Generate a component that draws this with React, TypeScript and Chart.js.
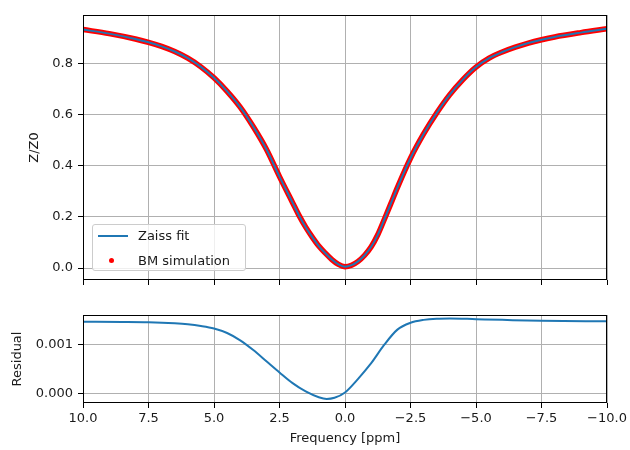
import React, { useEffect, useRef } from 'react';
import { Chart, registerables } from 'chart.js';

Chart.register(...registerables);

// ---- data ----
const freqPpm = [
  10, 9, 8, 7.5, 7, 6.5, 6, 5.5, 5, 4.5, 4, 3.5, 3, 2.5, 2, 1.75, 1.5, 1.25, 1, 0.75, 0.5, 0.25, 0,
  -0.25, -0.5, -0.75, -1, -1.25, -1.5, -1.75, -2, -2.5, -3, -3.5, -4, -4.5, -5, -5.5, -6, -6.5, -7, -7.5, -8, -9, -10,
];
const bmSimulation = [
  0.934, 0.918, 0.897, 0.884, 0.868, 0.848, 0.822, 0.788, 0.745, 0.692, 0.63, 0.553, 0.465, 0.358, 0.256, 0.205, 0.16, 0.121, 0.086, 0.058, 0.033, 0.014, 0.005,
  0.011, 0.026, 0.05, 0.083, 0.13, 0.19, 0.252, 0.315, 0.43, 0.525, 0.607, 0.679, 0.738, 0.787, 0.822, 0.846, 0.865, 0.881, 0.894, 0.905, 0.922, 0.937,
];
const zaissFit = [
  0.934, 0.918, 0.897, 0.884, 0.868, 0.848, 0.822, 0.788, 0.745, 0.692, 0.63, 0.553, 0.465, 0.358, 0.256, 0.205, 0.16, 0.121, 0.086, 0.058, 0.033, 0.014, 0.005,
  0.011, 0.026, 0.05, 0.083, 0.13, 0.19, 0.252, 0.315, 0.43, 0.525, 0.607, 0.679, 0.738, 0.787, 0.822, 0.846, 0.865, 0.881, 0.894, 0.905, 0.922, 0.937,
];
const residualFreq = [
  10, 8.5, 7.5, 6.5, 6, 5.5, 5, 4.5, 4, 3.5, 3, 2.5, 2, 1.5, 1, 0.7, 0.4, 0, -0.5, -1, -1.5, -2, -2.5, -3, -3.5, -4, -5, -6, -7.5, -10,
];
const residual = [
  0.00147, 0.001468, 0.001462, 0.00144, 0.00142, 0.001385, 0.001333, 0.00124, 0.00109, 0.00089, 0.00066, 0.00043, 0.00021, 0.00004,
  -0.00008, -0.000115, -0.00009, 0.00002, 0.0003, 0.00062, 0.001, 0.00131, 0.00145, 0.00151, 0.001535, 0.00154, 0.001525, 0.00151, 0.00149, 0.00148,
];
const xTicks = [10, 7.5, 5, 2.5, 0, -2.5, -5, -7.5, -10];
const zTicks = [0, 0.2, 0.4, 0.6, 0.8];
const residualTicks = [0, 0.001];

const FONT = 'DejaVu Sans';
const TXT = '#1a1a1a';
const BLUE = '#1f77b4';

const fmt = (v: number, d: number) => (v < 0 ? '\u2212' : '') + Math.abs(v).toFixed(d);

const framePlugin = {
  id: 'frame',
  afterDatasetsDraw(chart: any) {
    const { ctx, chartArea: a } = chart;
    ctx.save();
    ctx.strokeStyle = '#000';
    ctx.lineWidth = 1;
    ctx.strokeRect(Math.round(a.left) + 0.5, Math.round(a.top) + 0.5, Math.round(a.right - a.left) - 1, Math.round(a.bottom - a.top) - 1);
    ctx.restore();
  },
};

function xScale(height: number, showLabels: boolean) {
  return {
    type: 'linear',
    min: -10,
    max: 10,
    reverse: true,
    afterBuildTicks: (s: any) => {
      s.ticks = xTicks.map((v) => ({ value: v }));
    },
    afterFit: (s: any) => {
      s.height = height;
    },
    grid: { color: '#b0b0b0', lineWidth: 1, tickColor: '#000', tickLength: 5, drawTicks: true },
    border: { display: false },
    ticks: {
      display: showLabels,
      color: TXT,
      font: { family: FONT, size: 13 },
      padding: 3,
      maxRotation: 0,
      autoSkip: false,
      callback: (v: any) => fmt(Number(v), 1),
    },
    title: {
      display: showLabels,
      text: 'Frequency [ppm]',
      color: TXT,
      font: { family: FONT, size: 13 },
      padding: { top: 0, bottom: 4 },
    },
  };
}

function yScale(min: number, max: number, ticks: number[], digits: number, title: string, titlePad: number) {
  return {
    type: 'linear',
    min,
    max,
    afterBuildTicks: (s: any) => {
      s.ticks = ticks.map((v) => ({ value: v }));
    },
    afterFit: (s: any) => {
      s.width = 83;
    },
    grid: { color: '#b0b0b0', lineWidth: 1, tickColor: '#000', tickLength: 5, drawTicks: true },
    border: { display: false },
    ticks: {
      color: TXT,
      font: { family: FONT, size: 13 },
      padding: 5,
      autoSkip: false,
      callback: (v: any) => fmt(Number(v), digits),
    },
    title: {
      display: true,
      text: title,
      color: TXT,
      font: { family: FONT, size: 13 },
      padding: { top: titlePad, bottom: 0 },
    },
  };
}

export default function App() {
  const topRef = useRef<HTMLCanvasElement>(null);
  const botRef = useRef<HTMLCanvasElement>(null);

  useEffect(() => {
    const top = new Chart(topRef.current as HTMLCanvasElement, {
      type: 'line',
      data: {
        datasets: [
          {
            label: 'Zaiss fit',
            data: freqPpm.map((f, i) => ({ x: f, y: zaissFit[i] })),
            borderColor: BLUE,
            borderWidth: 2,
            pointRadius: 0,
            cubicInterpolationMode: 'monotone',
            fill: false,
          },
          {
            label: 'BM simulation',
            data: freqPpm.map((f, i) => ({ x: f, y: bmSimulation[i] })),
            borderColor: '#ff0000',
            borderWidth: 5.5,
            pointRadius: 0,
            cubicInterpolationMode: 'monotone',
            fill: false,
          },
        ],
      },
      options: {
        responsive: false,
        animation: false,
        layout: { padding: { top: 15, right: 23, left: 0, bottom: 0 } },
        plugins: { legend: { display: false }, tooltip: { enabled: false } },
        scales: {
          x: xScale(20, false) as any,
          y: yScale(-0.047, 0.991, zTicks, 1, 'Z/Z0', 27) as any,
        },
      },
      plugins: [framePlugin],
    } as any);

    const bot = new Chart(botRef.current as HTMLCanvasElement, {
      type: 'line',
      data: {
        datasets: [
          {
            label: 'Residual',
            data: residualFreq.map((f, i) => ({ x: f, y: residual[i] })),
            borderColor: BLUE,
            borderWidth: 2,
            pointRadius: 0,
            cubicInterpolationMode: 'monotone',
            fill: false,
          },
        ],
      },
      options: {
        responsive: false,
        animation: false,
        layout: { padding: { top: 15, right: 23, left: 0, bottom: 0 } },
        plugins: { legend: { display: false }, tooltip: { enabled: false } },
        scales: {
          x: xScale(47, true) as any,
          y: yScale(-0.000197, 0.00161, residualTicks, 3, 'Residual', 10) as any,
        },
      },
      plugins: [framePlugin],
    } as any);

    return () => {
      top.destroy();
      bot.destroy();
    };
  }, []);

  const legendText: React.CSSProperties = {
    position: 'absolute',
    left: 45,
    fontFamily: FONT,
    fontSize: 13,
    color: TXT,
    lineHeight: '16px',
    whiteSpace: 'nowrap',
  };

  return (
    <div style={{ position: 'absolute', left: 0, top: 0, width: 630, height: 450, background: '#fff' }}>
      <canvas ref={topRef} width={630} height={300} style={{ position: 'absolute', left: 0, top: 0, display: 'block' }} />
      <canvas ref={botRef} width={630} height={150} style={{ position: 'absolute', left: 0, top: 300, display: 'block' }} />
      <div
        style={{
          position: 'absolute',
          left: 92,
          top: 224,
          width: 154,
          height: 47,
          border: '1px solid #cccccc',
          borderRadius: 3,
          background: 'rgba(255,255,255,0.8)',
          boxSizing: 'border-box',
        }}
      >
        <div style={{ position: 'absolute', left: 5, top: 10, width: 30, height: 2, background: BLUE }} />
        <div style={{ ...legendText, top: 3 }}>Zaiss fit</div>
        <div style={{ position: 'absolute', left: 16, top: 33, width: 5, height: 5, borderRadius: '50%', background: '#ff0000' }} />
        <div style={{ ...legendText, top: 28 }}>BM simulation</div>
      </div>
    </div>
  );
}
